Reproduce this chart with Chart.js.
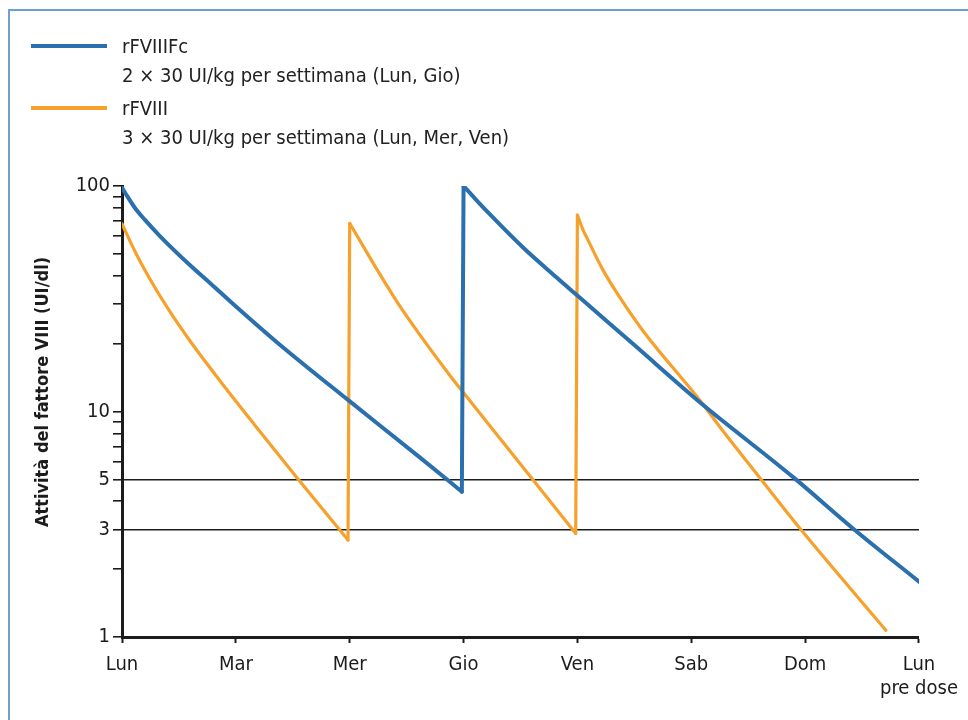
<!DOCTYPE html>
<html lang="it">
<head>
<meta charset="utf-8">
<title>rFVIIIFc vs rFVIII</title>
<script src="https://cdn.jsdelivr.net/npm/chart.js@4/dist/chart.umd.min.js"></script>
<style>
  html, body { margin: 0; padding: 0; background: #fff; overflow: hidden; }
  #wrap { position: relative; width: 968px; height: 720px; overflow: hidden; }
  #chart { position: absolute; left: 0; top: 0; }
  .legend-line {
    position: absolute; left: 122px; height: 24px; line-height: 24px;
    font-family: 'Liberation Sans Narrow', 'Arial Narrow', 'DejaVu Sans Condensed', sans-serif;
    font-size: 20px; color: #222; white-space: nowrap;
  }
  .legend-swatch { position: absolute; left: 31px; width: 76px; height: 4px; }
</style>
</head>
<body>
<div id="wrap">
  <canvas id="chart" width="968" height="720"></canvas>
</div>
<script>
// x axis: days of the week (0 = Lun ... 7 = next Lun before dosing)
const dayLabels = ['Lun', 'Mar', 'Mer', 'Gio', 'Ven', 'Sab', 'Dom', ['Lun', 'pre dose']];

// y axis: log ticks, only some of them get a label
const yTickValues = [1, 2, 3, 4, 5, 6, 7, 8, 9, 10, 20, 30, 40, 50, 60, 70, 80, 90, 100];
const yLabelled = [1, 3, 5, 10, 100];
const refLevels = [3, 5];
const yTitle = 'Attività del fattore VIII (UI/dl)';

// series names and dosing notes (legend)
const seriesNames = ['rFVIIIFc', 'rFVIII'];
const doseNotes = ['2 × 30 UI/kg per settimana (Lun, Gio)', '3 × 30 UI/kg per settimana (Lun, Mer, Ven)'];

// rFVIIIFc (dose Lun and Gio)
const fcDays   = [0, 0.053, 0.114, 0.2, 0.333, 0.596, 0.77, 0.947, 1.36, 1.99, 2.61, 2.985,
                  3.0, 3.1, 3.23, 3.52, 3.81, 4.02, 4.5, 5.07, 5.9, 6.42, 7];
const fcValues = [98.3, 89.0, 79.9, 70.9, 60.0, 44.6, 37.2, 30.9, 20.3, 11.2, 6.29, 4.41,
                  100, 88, 75, 53.5, 39.6, 32, 19.7, 11.05, 5.09, 3.03, 1.76];

// rFVIII (dose Lun, Mer and Ven)
const f8Days   = [0, 0.123, 0.246, 0.421, 0.596, 0.86, 1.167, 1.535, 1.985,
                  2.0, 2.123, 2.246, 2.42, 2.61, 2.88, 3.0, 3.32, 3.985,
                  4.0, 4.05, 4.09, 4.22, 4.37, 4.57, 5.07, 5.27, 5.6, 5.95, 6.71];
const f8Values = [67.9, 50.2, 38.6, 27.7, 20.6, 13.7, 8.7, 5.1, 2.69,
                  68.3, 53.6, 42.1, 30.4, 22.1, 14.45, 12.1, 7.6, 2.88,
                  74.3, 63.8, 58, 42.8, 32.2, 23, 11.3, 8.3, 5.1, 3.05, 1.07];

const seriesColors = ['#2a6fae', '#f5a12b'];
const seriesWidths = [4, 3.2];
const FONT = "'Liberation Sans Narrow', 'Arial Narrow', 'DejaVu Sans Condensed', sans-serif";
const INK = '#1c1c1c';
const FRAME = '#6d9fd2';

// split a series at each dose: smooth decay pieces + straight vertical jumps
function splitCycles(xs, ys) {
  const cycles = [[]];
  const jumps = [];
  xs.forEach((x, i) => {
    if (i > 0 && ys[i] > ys[i - 1]) {
      jumps.push({ x: xs[i - 1], y: ys[i - 1] }, { x: x, y: ys[i] }, { x: x, y: null });
      cycles.push([]);
    }
    cycles[cycles.length - 1].push({ x: x, y: ys[i] });
  });
  return { cycles, jumps };
}

function seriesDatasets(xs, ys, i) {
  const parts = splitCycles(xs, ys);
  const base = {
    label: seriesNames[i],
    borderColor: seriesColors[i],
    borderWidth: seriesWidths[i],
    pointRadius: 0,
    borderJoinStyle: 'round',
    borderCapStyle: 'round',
    fill: false
  };
  const sets = parts.cycles.map((pts) => Object.assign({}, base, {
    data: pts,
    cubicInterpolationMode: 'monotone'
  }));
  sets.push(Object.assign({}, base, { data: parts.jumps, tension: 0, spanGaps: false }));
  return sets;
}

// html legend, two lines per series
function buildLegend() {
  const wrap = document.getElementById('wrap');
  seriesNames.forEach((name, i) => {
    const nameY = 46 + i * 62;
    const sw = document.createElement('div');
    sw.className = 'legend-swatch';
    sw.style.top = (nameY - 2) + 'px';
    sw.style.background = seriesColors[i];
    wrap.appendChild(sw);

    const l1 = document.createElement('div');
    l1.className = 'legend-line';
    l1.style.top = (nameY - 12) + 'px';
    l1.textContent = name;
    wrap.appendChild(l1);

    const l2 = document.createElement('div');
    l2.className = 'legend-line';
    l2.style.top = (nameY + 29 - 12) + 'px';
    l2.textContent = doseNotes[i];
    wrap.appendChild(l2);
  });
}

// light blue frame (left and top edges only) + y title placed like the original
const decorPlugin = {
  id: 'decor',
  beforeDraw(chart) {
    const c = chart.ctx;
    c.save();
    c.strokeStyle = FRAME;
    c.lineWidth = 2;
    c.beginPath();
    c.moveTo(9, chart.height);
    c.lineTo(9, 10);
    c.lineTo(chart.width, 10);
    c.stroke();
    c.restore();
  },
  afterDraw(chart) {
    const c = chart.ctx;
    c.save();
    c.translate(43, 392);
    c.rotate(-Math.PI / 2);
    c.font = 'bold 18px ' + FONT;
    c.fillStyle = INK;
    c.textAlign = 'center';
    c.textBaseline = 'middle';
    c.fillText(yTitle, 0, 0);
    c.restore();
  }
};

buildLegend();

const ctx = document.getElementById('chart').getContext('2d');
new Chart(ctx, {
  type: 'line',
  data: {
    datasets: [
      ...seriesDatasets(fcDays, fcValues, 0),
      ...seriesDatasets(f8Days, f8Values, 1)
    ]
  },
  options: {
    responsive: false,
    animation: false,
    events: [],
    layout: { padding: { top: 186, right: 48, bottom: 0, left: 31 } },
    plugins: {
      legend: { display: false },
      tooltip: { enabled: false }
    },
    scales: {
      x: {
        type: 'linear',
        min: 0,
        max: 7,
        afterBuildTicks: (s) => { s.ticks = dayLabels.map((_, i) => ({ value: i })); },
        afterFit: (s) => { s.height = 83; },
        ticks: {
          autoSkip: false,
          maxRotation: 0,
          padding: 10,
          color: INK,
          font: { family: FONT, size: 20, lineHeight: 1.2 },
          callback: (v) => dayLabels[v]
        },
        grid: {
          drawOnChartArea: false,
          tickLength: 6,
          tickColor: INK,
          tickWidth: 2
        },
        border: { color: INK, width: 3 }
      },
      y: {
        type: 'logarithmic',
        min: 1,
        max: 100,
        afterBuildTicks: (s) => { s.ticks = yTickValues.map((v) => ({ value: v })); },
        afterFit: (s) => { s.width = 91; },
        ticks: {
          autoSkip: false,
          padding: 3,
          color: INK,
          font: { family: FONT, size: 20 },
          callback: (v) => (yLabelled.includes(v) ? String(v) : '')
        },
        grid: {
          drawOnChartArea: true,
          color: (c) => (c.tick && refLevels.includes(c.tick.value) ? INK : 'rgba(0,0,0,0)'),
          lineWidth: 1.6,
          tickLength: 9,
          tickColor: INK,
          tickWidth: 1.6
        },
        border: { color: INK, width: 3 }
      }
    }
  },
  plugins: [decorPlugin]
});
</script>
</body>
</html>
